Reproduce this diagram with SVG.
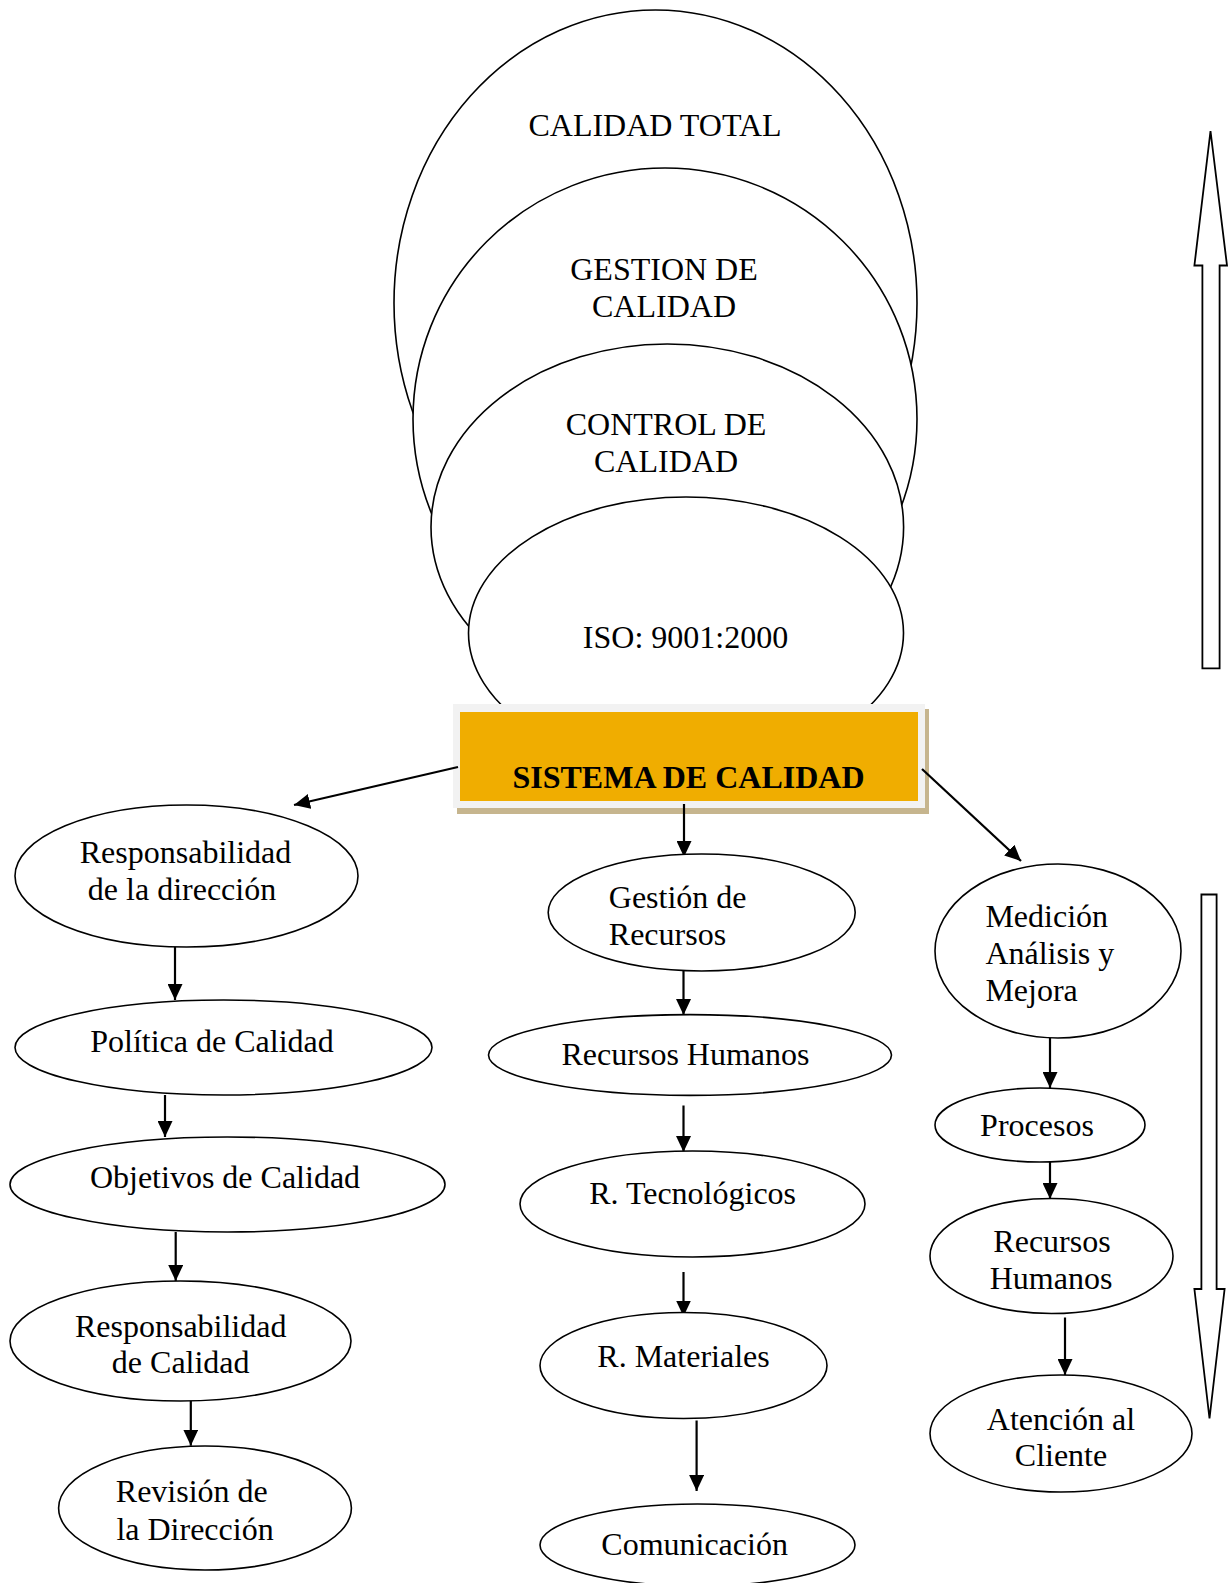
<svg xmlns="http://www.w3.org/2000/svg" width="1228" height="1583" viewBox="0 0 1228 1583">
<style>
  .n { fill: #ffffff; stroke: #000000; stroke-width: 1.6; }
  .t { font-family: "Liberation Serif", "Times New Roman", serif; font-size: 32px; fill: #000000; }
  .c { text-anchor: middle; }
  .b { font-weight: bold; }
  .e { stroke: #000000; stroke-width: 2.2; fill: none; marker-end: url(#ah); }
  .big { fill: #ffffff; stroke: #000000; stroke-width: 1.8; }
</style>
<defs>
  <marker id="ah" markerUnits="userSpaceOnUse" markerWidth="16" markerHeight="15" refX="16" refY="7.5" orient="auto">
    <path d="M0,0 L16,7.5 L0,15 Z" fill="#000000"/>
  </marker>
</defs>
<rect width="1228" height="1583" fill="#ffffff"/>

<g id="nested-ellipses">
  <g id="calidad-total">
    <ellipse class="n" cx="655.5" cy="303" rx="261.5" ry="293"/>
    <text class="t c" x="655" y="136">CALIDAD TOTAL</text>
  </g>
  <g id="gestion-calidad">
    <ellipse class="n" cx="665" cy="419" rx="252" ry="251"/>
    <text class="t c" x="664" y="280">GESTION DE</text>
    <text class="t c" x="664" y="317">CALIDAD</text>
  </g>
  <g id="control-calidad">
    <ellipse class="n" cx="667.3" cy="527" rx="236.3" ry="183"/>
    <text class="t c" x="666" y="435">CONTROL DE</text>
    <text class="t c" x="666" y="472">CALIDAD</text>
  </g>
  <g id="iso">
    <ellipse class="n" cx="686" cy="633" rx="217.5" ry="136"/>
    <text class="t c" x="685.5" y="648">ISO: 9001:2000</text>
  </g>
</g>

<g id="sistema-calidad">
  <rect x="457" y="709" width="472" height="105" fill="#c6b58e"/>
  <rect x="453" y="704" width="472" height="104" fill="#f2f2f2"/>
  <rect x="460" y="712" width="458" height="89" fill="#f0ad00"/>
  <text class="t c b" x="688.5" y="788">SISTEMA DE CALIDAD</text>
</g>

<g id="connectors">
  <line class="e" x1="458" y1="767" x2="294" y2="805"/>
  <line class="e" x1="684" y1="804" x2="684" y2="857"/>
  <line class="e" x1="922" y1="769" x2="1021" y2="861"/>

  <line class="e" x1="175" y1="947" x2="175" y2="1000"/>
  <line class="e" x1="165" y1="1095" x2="165" y2="1137"/>
  <line class="e" x1="175.7" y1="1232" x2="175.7" y2="1281"/>
  <line class="e" x1="190.8" y1="1401" x2="190.8" y2="1445.7"/>

  <line class="e" x1="683.5" y1="971" x2="683.5" y2="1015"/>
  <line class="e" x1="683.5" y1="1105.5" x2="683.5" y2="1152"/>
  <line class="e" x1="683.5" y1="1272" x2="683.5" y2="1316.5"/>
  <line class="e" x1="696.6" y1="1420.5" x2="696.6" y2="1491"/>

  <line class="e" x1="1050" y1="1038" x2="1050" y2="1088"/>
  <line class="e" x1="1050" y1="1162" x2="1050" y2="1199"/>
  <line class="e" x1="1065" y1="1317.5" x2="1065" y2="1375"/>
</g>

<g id="resp-direccion">
  <ellipse class="n" cx="186.5" cy="876" rx="171.5" ry="71"/>
  <text class="t c" x="185.5" y="863">Responsabilidad</text>
  <text class="t c" x="182" y="900">de la dirección</text>
</g>
<g id="politica">
  <ellipse class="n" cx="223.5" cy="1047.5" rx="208.5" ry="47.5"/>
  <text class="t c" x="212" y="1052">Política de Calidad</text>
</g>
<g id="objetivos">
  <ellipse class="n" cx="227.5" cy="1184.5" rx="217.5" ry="47.5"/>
  <text class="t c" x="225" y="1188">Objetivos de Calidad</text>
</g>
<g id="resp-calidad">
  <ellipse class="n" cx="180.5" cy="1341" rx="170.5" ry="60"/>
  <text class="t c" x="180.7" y="1336.7">Responsabilidad</text>
  <text class="t c" x="180.7" y="1373">de Calidad</text>
</g>
<g id="revision">
  <ellipse class="n" cx="205" cy="1508" rx="146.4" ry="62"/>
  <text class="t c" x="191.8" y="1502">Revisión de</text>
  <text class="t c" x="195" y="1539.6">la Dirección</text>
</g>

<g id="gestion-recursos">
  <ellipse class="n" cx="701.7" cy="912.5" rx="153.5" ry="58.5"/>
  <text class="t" x="608.8" y="907.6">Gestión de</text>
  <text class="t" x="608.8" y="945">Recursos</text>
</g>
<g id="recursos-humanos-1">
  <ellipse class="n" cx="690" cy="1055" rx="201.5" ry="40.4"/>
  <text class="t c" x="685.5" y="1065">Recursos Humanos</text>
</g>
<g id="tecnologicos">
  <ellipse class="n" cx="692.5" cy="1204" rx="172.5" ry="53"/>
  <text class="t c" x="692.6" y="1203.5">R. Tecnológicos</text>
</g>
<g id="materiales">
  <ellipse class="n" cx="683.5" cy="1365.5" rx="143.5" ry="53"/>
  <text class="t c" x="683.5" y="1367">R. Materiales</text>
</g>
<g id="comunicacion">
  <ellipse class="n" cx="697.5" cy="1545" rx="157.5" ry="41"/>
  <text class="t c" x="694.6" y="1555">Comunicación</text>
</g>

<g id="medicion">
  <ellipse class="n" cx="1058" cy="951" rx="123" ry="87"/>
  <text class="t" x="985.4" y="927">Medición</text>
  <text class="t" x="985.4" y="964">Análisis y</text>
  <text class="t" x="985.4" y="1000.5">Mejora</text>
</g>
<g id="procesos">
  <ellipse class="n" cx="1040" cy="1125" rx="105" ry="37"/>
  <text class="t c" x="1037" y="1136">Procesos</text>
</g>
<g id="recursos-humanos-2">
  <ellipse class="n" cx="1051.5" cy="1256" rx="121.5" ry="57.5"/>
  <text class="t c" x="1052" y="1252">Recursos</text>
  <text class="t c" x="1051" y="1289">Humanos</text>
</g>
<g id="atencion">
  <ellipse class="n" cx="1061" cy="1433.5" rx="131" ry="58.5"/>
  <text class="t c" x="1061" y="1429.6">Atención al</text>
  <text class="t c" x="1061" y="1466">Cliente</text>
</g>

<g id="up-arrow">
  <path class="big" d="M1210.5,131 L1227,265.5 L1219.6,265.5 L1219.6,668.4 L1202.4,668.4 L1202.4,265.5 L1194.4,265.5 Z"/>
</g>
<g id="down-arrow">
  <path class="big" d="M1201.4,894.5 L1216.6,894.5 L1216.6,1289 L1224.6,1289 L1209.5,1418.5 L1194.4,1289 L1201.4,1289 Z"/>
</g>
</svg>
